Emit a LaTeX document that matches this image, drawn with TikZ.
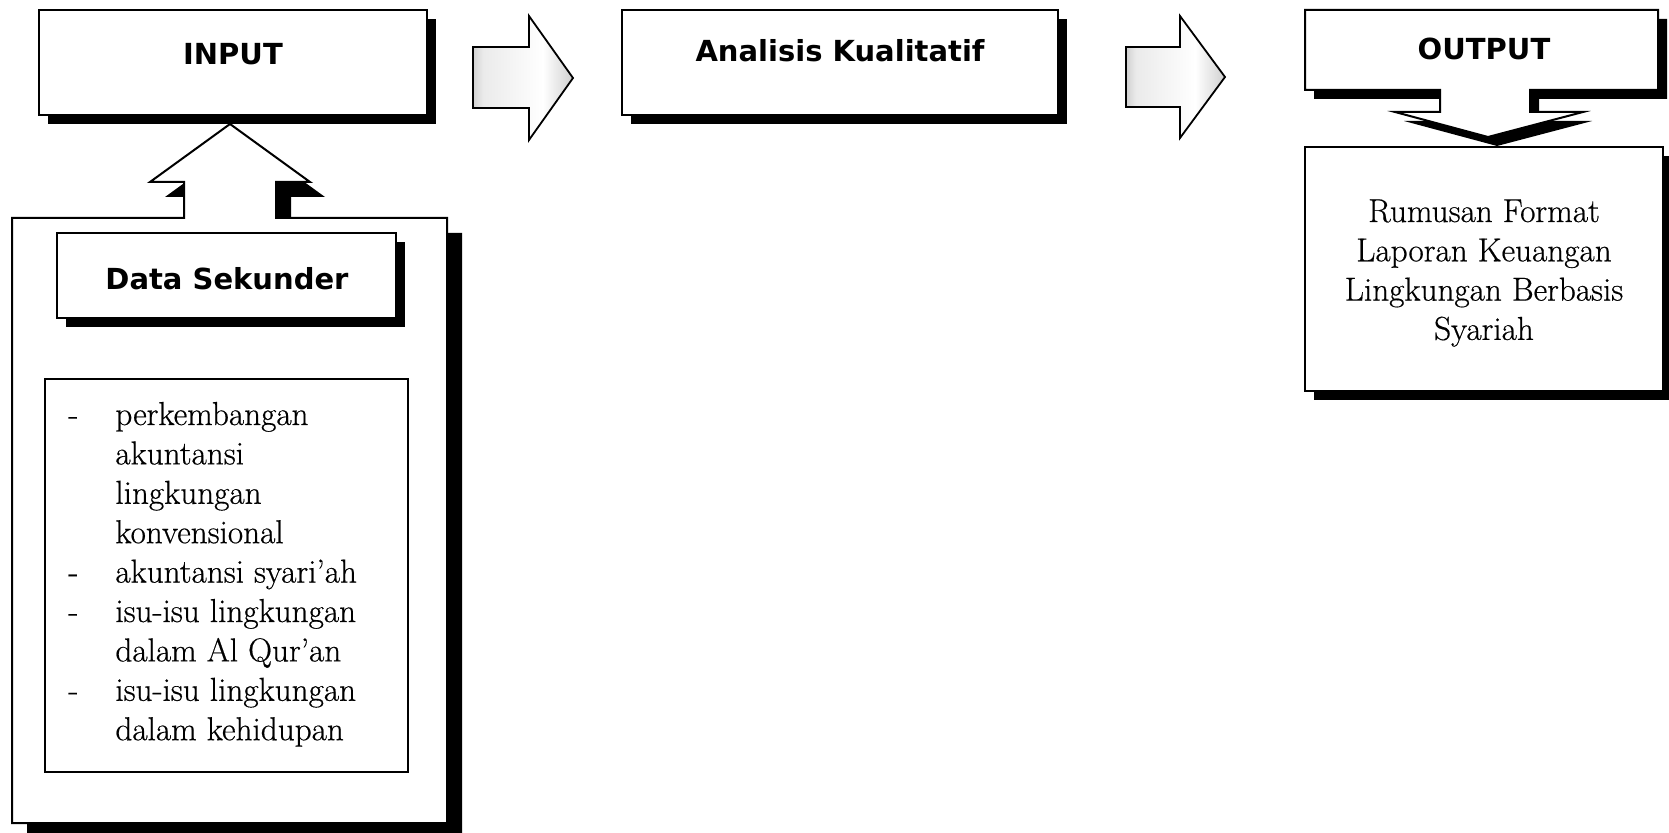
\documentclass[tikz,border=0pt]{standalone}
\usepackage{fontspec}
\setmainfont{Latin Modern Roman}
\newfontfamily\dvs{DejaVu Sans}
\newfontfamily\bodyfam{Latin Modern Roman}[FakeBold=0.5]
\newcommand\lblfont{\dvs\bfseries\fontsize{14.5}{17}\selectfont}
\newcommand\bodyfont{\bodyfam\fontsize{16.6}{19.7}\selectfont}
\pgfdeclarehorizontalshading{arrshade}{100bp}{color(0bp)=(black!90); color(7bp)=(black!55); color(30bp)=(black!8); color(60bp)=(white); color(88bp)=(black!35); color(100bp)=(black!55)}
\begin{document}
\begin{tikzpicture}[x=0.5pt,y=-0.5pt,
  outl/.style={draw=black,line width=1pt,fill=white,line join=miter},
  shad/.style={fill=black},
  lbl/.style={font=\lblfont,inner sep=0pt},
  bodytxt/.style={font=\bodyfont,inner sep=0pt},
  blockarrow/.style={draw=black,line width=0.9pt,shading=arrshade}]
\useasboundingbox (0,0) rectangle (1669,833);

% --- Data Sekunder container with up arrow (callout) ---
\fill[shad,shift={(15,15)}] (12,218) -- (184,218) -- (184,182) -- (150,182) -- (230,124) -- (310,182) -- (276,182) -- (276,218) -- (447,218) -- (447,823) -- (12,823) -- cycle;
\draw[outl] (12,218) -- (184,218) -- (184,182) -- (150,182) -- (230,124) -- (310,182) -- (276,182) -- (276,218) -- (447,218) -- (447,823) -- (12,823) -- cycle;

% Data Sekunder box
\fill[shad] (66,242) rectangle (405,327);
\draw[outl] (57,233) rectangle (396,318);
\node[lbl] (datasek) at (227,279) {Data Sekunder};

% list box
\draw[outl] (45,379) rectangle (408,772);
\foreach \t [count=\i from 0] in {perkembangan, akuntansi, lingkungan, konvensional, akuntansi syari’ah, isu-isu lingkungan, dalam Al Qur’an, isu-isu lingkungan, dalam kehidupan}
  \node[bodytxt,anchor=base west] (li\i) at (115,{425+39.4*\i}) {\t};
\foreach \k in {0,4,5,7}
  \node[bodytxt,anchor=base west] (d\k) at (68,{425+39.4*\k}) {-};

% --- INPUT box ---
\fill[shad] (48,19) rectangle (436,124);
\draw[outl] (39,10) rectangle (427,115);
\node[lbl] (input) at (233,54) {INPUT};

% --- block arrow 1 ---
\draw[blockarrow] (473,47) -- (529,47) -- (529,16) -- (573,78) -- (529,140) -- (529,108) -- (473,108) -- cycle;

% --- Analisis Kualitatif ---
\fill[shad] (631,19) rectangle (1067,124);
\draw[outl] (622,10) rectangle (1058,115);
\node[lbl] (analisis) at (840,51) {Analisis Kualitatif};

% --- block arrow 2 ---
\draw[blockarrow] (1126,47) -- (1180,47) -- (1180,16) -- (1225,77) -- (1180,138) -- (1180,107) -- (1126,107) -- cycle;

% --- OUTPUT with down arrow (callout) ---
\fill[shad,shift={(9,9)}] (1305,10) -- (1658,10) -- (1658,90) -- (1530,90) -- (1530,112) -- (1583,112) -- (1488,137) -- (1395,112) -- (1440,112) -- (1440,90) -- (1305,90) -- cycle;
\draw[outl] (1305,10) -- (1658,10) -- (1658,90) -- (1530,90) -- (1530,112) -- (1583,112) -- (1488,137) -- (1395,112) -- (1440,112) -- (1440,90) -- (1305,90) -- cycle;
\node[lbl] (output) at (1484,49) {OUTPUT};

% --- result box ---
\fill[shad] (1314,156) rectangle (1672,400);
\draw[outl] (1305,147) rectangle (1663,391);
\foreach \t [count=\i] in {Rumusan Format, Laporan Keuangan, Lingkungan Berbasis, Syariah}
  \node[bodytxt,anchor=base] (r\i) at (1484,{222+39.3*(\i-1)}) {\t};
\end{tikzpicture}
\end{document}
